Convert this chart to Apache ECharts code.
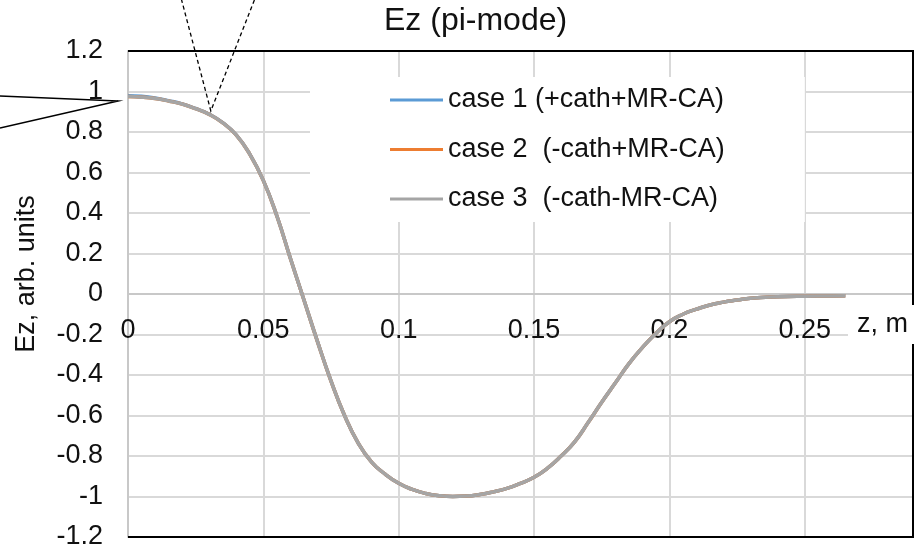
<!DOCTYPE html>
<html>
<head>
<meta charset="utf-8">
<script src="https://cdn.jsdelivr.net/npm/echarts@6/dist/echarts.min.js"></script>
<style>
  html, body { margin: 0; padding: 0; background: #fff; }
  #chart { width: 915px; height: 553px; }
</style>
</head>
<body>
<div id="chart"></div>
<script>
// Axial field profile Ez along z for three cathode / MR-CA configurations
const zPositions = [0, 0.005, 0.01, 0.015, 0.02, 0.025, 0.03, 0.035, 0.04, 0.045,
  0.05, 0.055, 0.06, 0.065, 0.07, 0.075, 0.08, 0.085, 0.09, 0.095,
  0.1, 0.105, 0.11, 0.115, 0.12, 0.125, 0.13, 0.135, 0.14, 0.145,
  0.15, 0.155, 0.16, 0.165, 0.17, 0.175, 0.18, 0.185, 0.19, 0.195,
  0.2, 0.205, 0.21, 0.215, 0.22, 0.225, 0.23, 0.24, 0.25, 0.26, 0.265];

const case1Values = [0.979, 0.976, 0.968, 0.955, 0.939, 0.916, 0.888, 0.846, 0.786, 0.691,
  0.561, 0.386, 0.176, -0.029, -0.234, -0.429, -0.6, -0.735, -0.83, -0.89,
  -0.935, -0.965, -0.985, -0.996, -1.0, -0.998, -0.99, -0.977, -0.96, -0.935,
  -0.905, -0.86, -0.8, -0.73, -0.634, -0.534, -0.44, -0.345, -0.265, -0.195,
  -0.137, -0.1, -0.075, -0.054, -0.04, -0.03, -0.021, -0.014, -0.011, -0.01, -0.009];

const case2Values = [0.975, 0.972, 0.965, 0.953, 0.938, 0.915, 0.887, 0.845, 0.785, 0.69,
  0.56, 0.385, 0.175, -0.03, -0.235, -0.43, -0.6, -0.735, -0.83, -0.89,
  -0.935, -0.965, -0.985, -0.996, -1.0, -0.998, -0.99, -0.977, -0.96, -0.935,
  -0.905, -0.86, -0.8, -0.73, -0.635, -0.535, -0.44, -0.345, -0.265, -0.195,
  -0.137, -0.1, -0.075, -0.054, -0.04, -0.03, -0.021, -0.014, -0.011, -0.01, -0.009];

const case3Values = [0.975, 0.972, 0.965, 0.953, 0.938, 0.915, 0.887, 0.845, 0.785, 0.69,
  0.56, 0.385, 0.175, -0.03, -0.235, -0.43, -0.6, -0.735, -0.83, -0.89,
  -0.935, -0.965, -0.985, -0.996, -1.0, -0.998, -0.99, -0.977, -0.96, -0.935,
  -0.905, -0.86, -0.8, -0.73, -0.635, -0.535, -0.44, -0.345, -0.265, -0.195,
  -0.137, -0.1, -0.075, -0.054, -0.04, -0.03, -0.021, -0.014, -0.011, -0.01, -0.009];

const seriesNames = ['case 1 (+cath+MR-CA)', 'case 2  (-cath+MR-CA)', 'case 3  (-cath-MR-CA)'];
const seriesColors = ['#5B9BD5', '#ED7D31', '#A5A5A5'];
const seriesValues = [case1Values, case2Values, case3Values];

const chartTitle = 'Ez (pi-mode)';
const yAxisTitle = 'Ez, arb. units';
const xAxisTitle = 'z, m';
const xMin = 0, xMax = 0.29, xStep = 0.05;
const yMin = -1.2, yMax = 1.2, yStep = 0.2;

// Callout tips (data coordinates) for the two pointer annotations
const solidCalloutTip = [-0.0037, 0.953];
const dashedCalloutTip = [0.0306, 0.904];

const FONT = '"Liberation Sans", Arial, sans-serif';
const TEXT_COLOR = '#111';

const GRID = { left: 128, right: 2, top: 51, bottom: 16 };
const plotHeight = 553 - GRID.top - GRID.bottom;
// The z axis crosses the Ez axis at Ez = 0: shift it up from the bottom edge by that distance
const zAxisOffset = -plotHeight * (0 - yMin) / (yMax - yMin);

const chart = echarts.init(document.getElementById('chart'));

chart.setOption({
  animation: false,
  backgroundColor: '#fff',
  textStyle: { fontFamily: FONT },
  title: {
    text: chartTitle,
    left: 384,
    top: 5,
    padding: 0,
    textStyle: { fontSize: 32, fontWeight: 'normal', color: TEXT_COLOR, fontFamily: FONT }
  },
  legend: {
    orient: 'vertical',
    left: 310,
    top: 77,
    padding: [8, 80, 8, 80],
    backgroundColor: '#fff',
    icon: 'rect',
    itemWidth: 53,
    itemHeight: 3,
    itemGap: 19.5,
    selectedMode: false,
    data: seriesNames,
    textStyle: { fontSize: 27, color: TEXT_COLOR, fontFamily: FONT, lineHeight: 30 }
  },
  grid: {
    left: GRID.left,
    right: GRID.right,
    top: GRID.top,
    bottom: GRID.bottom,
    containLabel: false,
    outerBoundsMode: 'none'
  },
  xAxis: {
    type: 'value',
    min: xMin,
    max: xMax,
    interval: xStep,
    position: 'bottom',
    offset: zAxisOffset,
    axisLine: { show: true, onZero: false, lineStyle: { color: '#c8c8c8', width: 2 } },
    axisTick: { show: false },
    splitLine: { show: true, lineStyle: { color: '#d9d9d9', width: 2 } },
    axisLabel: {
      showMaxLabel: false,
      margin: 23,
      fontSize: 27,
      color: TEXT_COLOR,
      fontFamily: FONT
    }
  },
  yAxis: {
    type: 'value',
    min: yMin,
    max: yMax,
    interval: yStep,
    name: yAxisTitle,
    nameLocation: 'middle',
    nameGap: 88,
    nameTextStyle: { fontSize: 27, color: TEXT_COLOR, fontFamily: FONT, padding: [0, 0, 0, 40] },
    axisLine: { show: true, lineStyle: { color: '#c8c8c8', width: 2 } },
    axisTick: { show: false },
    splitLine: { show: true, lineStyle: { color: '#d9d9d9', width: 2 } },
    axisLabel: {
      margin: 25,
      fontSize: 27,
      color: TEXT_COLOR,
      fontFamily: FONT
    }
  },
  series: seriesNames.map((name, i) => ({
    name: name,
    type: 'line',
    data: zPositions.map((z, k) => [z, seriesValues[i][k]]),
    smooth: 0.5,
    symbol: 'none',
    lineStyle: { color: seriesColors[i], width: 3.5 },
    itemStyle: { color: seriesColors[i] },
    z: 2 + i
  }))
});

// Plot frame, axis unit label at the right end of the z axis, and the two pointer callouts
const toPx = (v) => chart.convertToPixel({ xAxisIndex: 0, yAxisIndex: 0 }, v);
const topLeft = toPx([xMin, yMax]);
const topRight = toPx([xMax, yMax]);
const bottomRight = toPx([xMax, yMin]);
const bottomLeft = toPx([xMin, yMin]);
const axisEnd = toPx([xMax, 0]);
const solidTip = toPx(solidCalloutTip);
const dashedTip = toPx(dashedCalloutTip);

chart.setOption({
  graphic: [
    {
      type: 'polyline',
      z: 90,
      shape: { points: [topLeft, topRight, bottomRight, bottomLeft] },
      style: { stroke: '#000', lineWidth: 2, fill: null }
    },
    {
      type: 'text',
      x: axisEnd[0] - 65,
      y: axisEnd[1] + 11,
      z: 110,
      style: {
        text: xAxisTitle,
        fontSize: 27,
        fontFamily: FONT,
        fill: TEXT_COLOR,
        backgroundColor: '#fff',
        padding: [6, 12, 6, 9],
        verticalAlign: 'top'
      }
    },
    {
      type: 'polyline',
      z: 100,
      shape: {
        points: [
          [solidTip[0] - 118, solidTip[1] - 5],
          solidTip,
          [solidTip[0] - 118, solidTip[1] + 27]
        ]
      },
      style: { stroke: '#000', lineWidth: 1.5, fill: null }
    },
    {
      type: 'polyline',
      z: 100,
      shape: {
        points: [
          [dashedTip[0] - 29.5, dashedTip[1] - 112],
          dashedTip,
          [dashedTip[0] + 44, dashedTip[1] - 112]
        ]
      },
      style: { stroke: '#000', lineWidth: 1.3, fill: null, lineDash: [4, 3] }
    }
  ]
});
</script>
</body>
</html>
